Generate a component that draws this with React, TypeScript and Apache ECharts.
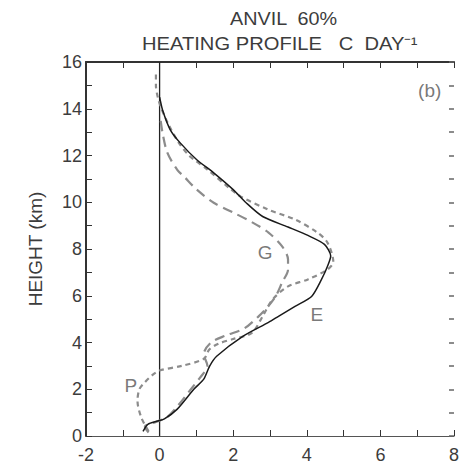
import React, { useEffect, useRef } from "react";
import * as echarts from "echarts";

const titleLine1 = "ANVIL  60%";
const titleLine2 = "HEATING PROFILE   C  DAY⁻¹";
const yAxisName = "HEIGHT (km)";

// Solid curve (E): [heating, height]
const solidE: [number, number][] = [
  [-0.45, 0.2], [-0.32, 0.5], [-0.05, 0.64], [0.13, 0.73], [0.48, 1.15], [0.93, 2.0],
  [1.2, 2.43], [1.36, 2.99], [1.55, 3.41], [2.27, 4.27], [2.96, 4.86], [3.23, 5.12],
  [3.68, 5.55], [4.13, 5.97], [4.4, 6.7], [4.56, 7.25], [4.65, 7.7], [4.48, 8.2],
  [4.03, 8.58], [3.49, 8.94], [2.8, 9.39], [2.35, 9.98], [2.0, 10.54], [1.47, 11.26],
  [1.01, 11.82], [0.56, 12.54], [0.29, 13.1], [0.08, 13.95], [0.0, 14.5],
];

// Long-dashed curve (G)
const dashG: [number, number][] = [
  [-0.3, 0.15], [-0.4, 0.4], [-0.1, 0.6], [0.2, 0.8], [0.5, 1.3], [0.8, 1.9], [1.1, 2.5],
  [1.3, 3.0], [1.2, 3.5], [1.4, 4.0], [1.8, 4.3], [2.3, 4.6], [2.69, 5.12], [2.88, 5.42],
  [3.15, 5.97], [3.33, 6.57], [3.49, 7.12], [3.49, 7.55], [3.33, 8.11], [2.96, 8.7],
  [2.53, 9.13], [2.0, 9.56], [1.47, 9.98], [1.01, 10.54], [0.67, 11.09], [0.48, 11.39],
  [0.21, 12.12], [0.08, 12.97], [0.02, 13.6],
];

// Short-dashed curve (P)
const dashP: [number, number][] = [
  [-0.3, 0.2], [-0.5, 0.8], [-0.6, 1.5], [-0.55, 2.0], [-0.4, 2.3], [-0.2, 2.6], [0.0, 2.8],
  [0.6, 3.0], [1.2, 3.3], [1.35, 3.7], [1.6, 3.95], [2.0, 4.15], [2.5, 4.4], [2.8, 5.12],
  [3.07, 5.84], [3.49, 6.4], [4.03, 6.7], [4.56, 7.12], [4.72, 7.45], [4.56, 8.28],
  [4.29, 8.7], [3.68, 9.26], [2.96, 9.68], [2.21, 10.24], [1.9, 10.6], [1.3, 11.4],
  [0.8, 12.0], [0.5, 12.6], [0.25, 13.3], [0.05, 14.0], [-0.05, 14.5], [-0.1, 15.0],
  [-0.1, 15.6],
];

const zeroLine: [number, number][] = [[0, 0], [0, 16]];

const curveLabels: { name: string; value: [number, number] }[] = [
  { name: "G", value: [2.87, 7.85] },
  { name: "E", value: [4.27, 5.2] },
  { name: "P", value: [-0.78, 2.18] },
  { name: "(b)", value: [7.34, 14.8] },
];

const xMin = -2, xMax = 8, yMin = 0, yMax = 16;

export default function App() {
  const ref = useRef<HTMLDivElement>(null);
  useEffect(() => {
    if (!ref.current) return;
    const chart = echarts.init(ref.current, undefined, { renderer: "svg" });
    const font = "Liberation Sans, Arial, sans-serif";
    const axisColor = "#333";
    const textColor = "#3c3c3c";
    const evenLabel = (v: number) => (Math.round(v) % 2 === 0 ? String(v) : "");
    chart.setOption({
      animation: false,
      backgroundColor: "#fff",
      grid: { left: 86, width: 376, top: 62, bottom: 27 },
      graphic: [
        {
          type: "text", x: 230, y: 10, scaleX: 1.1,
          style: { text: titleLine1, font: `18px ${font}`, fill: textColor, textVerticalAlign: "top" },
        },
        {
          type: "text", x: 142, y: 35, scaleX: 1.12,
          style: { text: titleLine2, font: `18px ${font}`, fill: textColor, textVerticalAlign: "top" },
        },
      ],
      xAxis: [
        {
          type: "value", min: xMin, max: xMax, interval: 1, position: "bottom",
          axisLine: { onZero: false, lineStyle: { color: "#555", width: 1.2 } },
          axisTick: { inside: true, length: 6, lineStyle: { color: axisColor } },
          axisLabel: { formatter: evenLabel, color: textColor, fontSize: 18, fontFamily: font, margin: 10 },
          splitLine: { show: false },
        },
        {
          type: "value", min: xMin, max: xMax, interval: 1, position: "top",
          axisLine: { onZero: false, lineStyle: { color: axisColor, width: 2 } },
          axisTick: { inside: true, length: 6, lineStyle: { color: axisColor } },
          axisLabel: { show: false },
          splitLine: { show: false },
        },
      ],
      yAxis: [
        {
          type: "value", min: yMin, max: yMax, interval: 1, position: "left",
          name: yAxisName, nameLocation: "middle", nameGap: 41, nameRotate: 90,
          nameTextStyle: { color: textColor, fontSize: 19, fontFamily: font },
          axisLine: { onZero: false, lineStyle: { color: axisColor, width: 2 } },
          axisTick: { inside: true, length: 6, lineStyle: { color: axisColor } },
          axisLabel: { formatter: evenLabel, color: textColor, fontSize: 18, fontFamily: font, margin: 4 },
          splitLine: { show: false },
        },
        {
          type: "value", min: yMin, max: yMax, interval: 1, position: "right",
          axisLine: { show: false, onZero: false },
          axisTick: { show: true, inside: true, length: 5, lineStyle: { color: "#666", width: 1.5 } },
          axisLabel: { show: false },
          splitLine: { show: false },
        },
      ],
      series: [
        {
          type: "line", data: zeroLine, symbol: "none",
          lineStyle: { color: "#222", width: 1.3 },
        },
        {
          type: "line", data: dashG, symbol: "none", smooth: 0.3,
          lineStyle: { color: "#8c8c8c", width: 2.2, type: [10, 6] },
        },
        {
          type: "line", data: dashP, symbol: "none", smooth: 0.3,
          lineStyle: { color: "#8c8c8c", width: 2.2, type: [5, 4] },
        },
        {
          type: "line", data: solidE, symbol: "none", smooth: 0.25,
          lineStyle: { color: "#1a1a1a", width: 1.5 },
        },
        {
          type: "scatter", data: curveLabels, symbolSize: 0,
          label: {
            show: true, position: "inside", formatter: (p: any) => p.name,
            color: "#555", fontSize: 19, fontFamily: font,
          },
        },
      ],
    });
    return () => chart.dispose();
  }, []);
  return (
    <div
      ref={ref}
      style={{ position: "absolute", left: 0, top: 0, width: 462, height: 464 }}
    />
  );
}
